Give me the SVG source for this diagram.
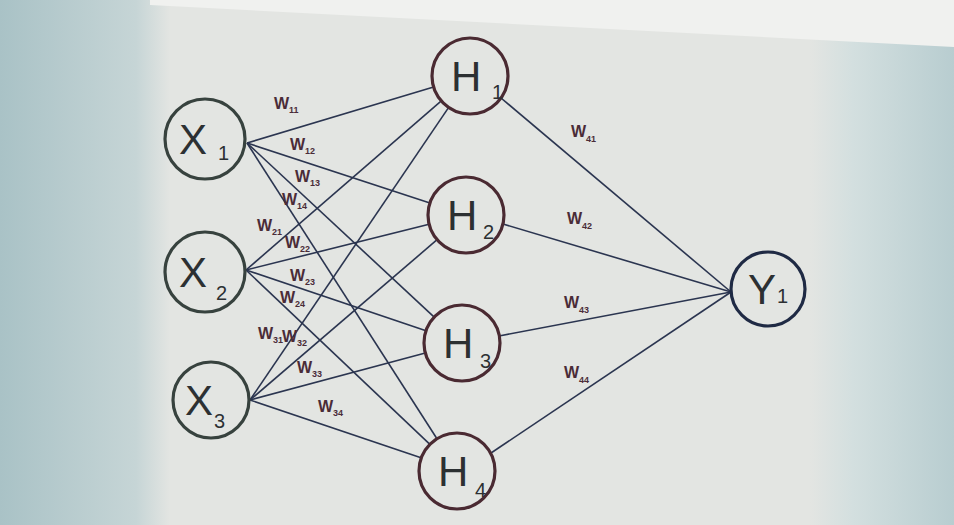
<svg xmlns="http://www.w3.org/2000/svg" width="954" height="525" viewBox="0 0 954 525">
<defs>
<linearGradient id="lg" x1="0" y1="0" x2="1" y2="0">
<stop offset="0" stop-color="#a9c2c6"/><stop offset="0.8" stop-color="#c6d5d6"/><stop offset="1" stop-color="#e3e5e2"/>
</linearGradient>
<linearGradient id="rg" x1="0" y1="0" x2="1" y2="0">
<stop offset="0" stop-color="#e3e5e2"/><stop offset="0.3" stop-color="#d3dfdf"/><stop offset="1" stop-color="#b8cdd0"/>
</linearGradient>
<style>
.edge{stroke:#2b3550;stroke-width:1.6;fill:none}
.nx{fill:none;stroke:#37423e;stroke-width:3.2}
.nh{fill:none;stroke:#4a2a32;stroke-width:3.2}
.ny{fill:none;stroke:#1f2a44;stroke-width:3.2}
.big{font-family:"Liberation Sans",Arial,sans-serif;font-size:42px;fill:#2c3032}
.sub{font-family:"Liberation Sans",Arial,sans-serif;font-size:20px;fill:#2c3032}
.w{font-family:"Liberation Sans",Arial,sans-serif;font-size:16px;font-weight:bold;fill:#4a2c38}
.ws{font-size:9px}
</style>
</defs>
<rect width="954" height="525" fill="#e3e5e2"/>
<rect x="0" y="0" width="170" height="525" fill="url(#lg)"/>
<rect x="810" y="40" width="144" height="485" fill="url(#rg)"/>
<polygon points="150,0 954,0 954,47 150,5" fill="#f0f1ef"/>
<g id="connectors">
<line class="edge" x1="247" y1="143" x2="433.6" y2="86.9"/>
<line class="edge" x1="247" y1="143" x2="429.9" y2="203.1"/>
<line class="edge" x1="247" y1="143" x2="434.2" y2="317.1"/>
<line class="edge" x1="247" y1="143" x2="436.5" y2="438"/>
<line class="edge" x1="246" y1="270" x2="441.3" y2="100.9"/>
<line class="edge" x1="246" y1="270" x2="429.1" y2="224.2"/>
<line class="edge" x1="246" y1="270" x2="426" y2="330.8"/>
<line class="edge" x1="246" y1="270" x2="429.4" y2="443.9"/>
<line class="edge" x1="250" y1="400" x2="448.7" y2="107.4"/>
<line class="edge" x1="250" y1="400" x2="437.1" y2="239.7"/>
<line class="edge" x1="250" y1="400" x2="425.3" y2="352.9"/>
<line class="edge" x1="250" y1="400" x2="421" y2="457.8"/>
<line class="edge" x1="501" y1="98" x2="731" y2="292"/>
<line class="edge" x1="503" y1="224" x2="731" y2="292"/>
<line class="edge" x1="499" y1="336" x2="731" y2="292"/>
<line class="edge" x1="491" y1="453" x2="731" y2="292"/>
</g>
<g id="labels">
<text class="w" x="274" y="109">W<tspan class="ws" dy="4">11</tspan></text>
<text class="w" x="290" y="150">W<tspan class="ws" dy="4">12</tspan></text>
<text class="w" x="295" y="182">W<tspan class="ws" dy="4">13</tspan></text>
<text class="w" x="282" y="205">W<tspan class="ws" dy="4">14</tspan></text>
<text class="w" x="257" y="231">W<tspan class="ws" dy="4">21</tspan></text>
<text class="w" x="285" y="248">W<tspan class="ws" dy="4">22</tspan></text>
<text class="w" x="290" y="281">W<tspan class="ws" dy="4">23</tspan></text>
<text class="w" x="280" y="303">W<tspan class="ws" dy="4">24</tspan></text>
<text class="w" x="258" y="339">W<tspan class="ws" dy="4">31</tspan></text>
<text class="w" x="282" y="342">W<tspan class="ws" dy="4">32</tspan></text>
<text class="w" x="297" y="373">W<tspan class="ws" dy="4">33</tspan></text>
<text class="w" x="318" y="412">W<tspan class="ws" dy="4">34</tspan></text>
<text class="w" x="571" y="137">W<tspan class="ws" dy="5">41</tspan></text>
<text class="w" x="567" y="224">W<tspan class="ws" dy="5">42</tspan></text>
<text class="w" x="564" y="308">W<tspan class="ws" dy="5">43</tspan></text>
<text class="w" x="564" y="378">W<tspan class="ws" dy="5">44</tspan></text>
</g>
<g id="X1"><circle class="nx" cx="205" cy="139" r="40"/><text class="big" x="179" y="154">X</text><text class="sub" x="218" y="160">1</text></g>
<g id="X2"><circle class="nx" cx="205" cy="272" r="40"/><text class="big" x="179" y="287">X</text><text class="sub" x="216" y="300">2</text></g>
<g id="X3"><circle class="nx" cx="211" cy="400" r="38"/><text class="big" x="185" y="415">X</text><text class="sub" x="214" y="428">3</text></g>
<g id="H1"><circle class="nh" cx="470" cy="76" r="38"/><text class="big" x="451" y="91">H</text><text class="sub" x="492" y="99">1</text></g>
<g id="H2"><circle class="nh" cx="466" cy="215" r="38"/><text class="big" x="447" y="230">H</text><text class="sub" x="483" y="239">2</text></g>
<g id="H3"><circle class="nh" cx="462" cy="343" r="38"/><text class="big" x="443" y="358">H</text><text class="sub" x="480" y="368">3</text></g>
<g id="H4"><circle class="nh" cx="457" cy="471" r="38"/><text class="big" x="438" y="486">H</text><text class="sub" x="475" y="497">4</text></g>
<g id="Y1"><circle class="ny" cx="768" cy="289" r="37"/><text class="big" x="748" y="304">Y</text><text class="sub" x="777" y="303">1</text></g>
</svg>
